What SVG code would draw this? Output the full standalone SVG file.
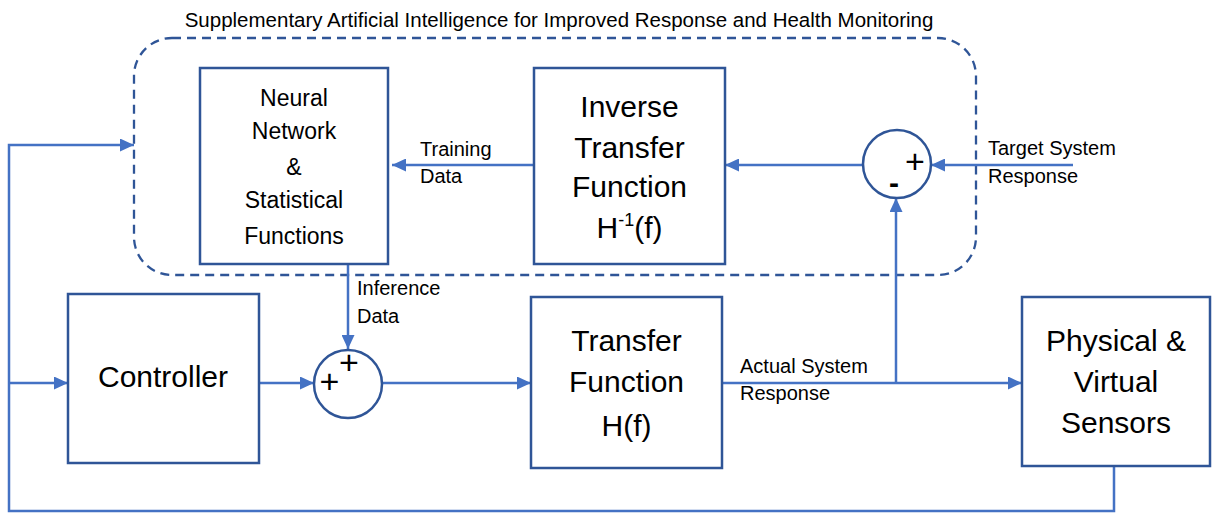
<svg xmlns="http://www.w3.org/2000/svg" width="1212" height="513" viewBox="0 0 1212 513">
<style>
.box{fill:#fff;stroke:#2F5597;stroke-width:2.5}
.sum{fill:#fff;stroke:#2F5597;stroke-width:2.5}
.wire{fill:none;stroke:#4472C4;stroke-width:2.5}
.dash{fill:none;stroke:#2F5597;stroke-width:2.3;stroke-dasharray:9 6}
text{font-family:"Liberation Sans",Arial,sans-serif;fill:#000}
.big{font-size:30px;text-anchor:middle}
.mid{font-size:23px;text-anchor:middle}
.lbl{font-size:20px}
.sign{font-size:34px;text-anchor:middle}
</style>
<defs>
<marker id="arr" markerUnits="userSpaceOnUse" markerWidth="15" markerHeight="13" refX="14" refY="6.5" orient="auto">
<path d="M0,0 L14,6.5 L0,13 z" fill="#4472C4"/>
</marker>
</defs>
<rect width="1212" height="513" fill="#fff"/>
<g id="ai-group">
<rect class="dash" x="134" y="38" width="842" height="237" rx="38" ry="38"/>
<text class="lbl" x="559" y="27" text-anchor="middle" style="font-size:20.5px">Supplementary Artificial Intelligence for Improved Response and Health Monitoring</text>
</g>
<g id="connectors">
<path class="wire" d="M534,165 H392" marker-end="url(#arr)"/>
<path class="wire" d="M863,165 H725" marker-end="url(#arr)"/>
<path class="wire" d="M1073,165 H931" marker-end="url(#arr)"/>
<path class="wire" d="M896,383 V198" marker-end="url(#arr)"/>
<path class="wire" d="M348,264 V349" marker-end="url(#arr)"/>
<path class="wire" d="M259,383 H314" marker-end="url(#arr)"/>
<path class="wire" d="M382,383 H531" marker-end="url(#arr)"/>
<path class="wire" d="M722,383 H1022" marker-end="url(#arr)"/>
<path class="wire" d="M9,383 H68" marker-end="url(#arr)"/>
<path class="wire" d="M1114,466 V511 H9 V145 H134" marker-end="url(#arr)"/>
<text class="lbl" x="420" y="156">Training</text>
<text class="lbl" x="420" y="183">Data</text>
<text class="lbl" x="988" y="155">Target System</text>
<text class="lbl" x="988" y="183">Response</text>
<text class="lbl" x="357" y="295">Inference</text>
<text class="lbl" x="357" y="323">Data</text>
<text class="lbl" x="740" y="373">Actual System</text>
<text class="lbl" x="740" y="400">Response</text>
</g>
<g id="neural">
<rect class="box" x="200" y="68" width="188" height="196"/>
<text class="mid" x="294" y="106">Neural</text>
<text class="mid" x="294" y="139">Network</text>
<text class="mid" x="294" y="175">&amp;</text>
<text class="mid" x="294" y="208">Statistical</text>
<text class="mid" x="294" y="244">Functions</text>
</g>
<g id="inverse">
<rect class="box" x="534" y="68" width="191" height="196"/>
<text class="big" x="629.5" y="117">Inverse</text>
<text class="big" x="629.5" y="158">Transfer</text>
<text class="big" x="629.5" y="197">Function</text>
<text class="big" x="629.5" y="238">H<tspan font-size="18" dy="-12">-1</tspan><tspan dy="12">(f)</tspan></text>
</g>
<g id="sum-top">
<circle class="sum" cx="897" cy="164" r="34"/>
<text class="sign" x="915" y="173">+</text>
<text class="sign" x="894" y="193" font-weight="bold" style="font-size:30px">-</text>
</g>
<g id="controller">
<rect class="box" x="68" y="294" width="191" height="169"/>
<text class="big" x="163" y="387">Controller</text>
</g>
<g id="sum-bottom">
<circle class="sum" cx="348" cy="384" r="34"/>
<text class="sign" x="329.5" y="393">+</text>
<text class="sign" x="349" y="374">+</text>
</g>
<g id="transfer">
<rect class="box" x="531" y="297" width="191" height="171"/>
<text class="big" x="626.5" y="351">Transfer</text>
<text class="big" x="626.5" y="392">Function</text>
<text class="big" x="626.5" y="436">H(f)</text>
</g>
<g id="sensors">
<rect class="box" x="1022" y="297" width="188" height="169"/>
<text class="big" x="1116" y="351">Physical &amp;</text>
<text class="big" x="1116" y="392">Virtual</text>
<text class="big" x="1116" y="433">Sensors</text>
</g>
</svg>
